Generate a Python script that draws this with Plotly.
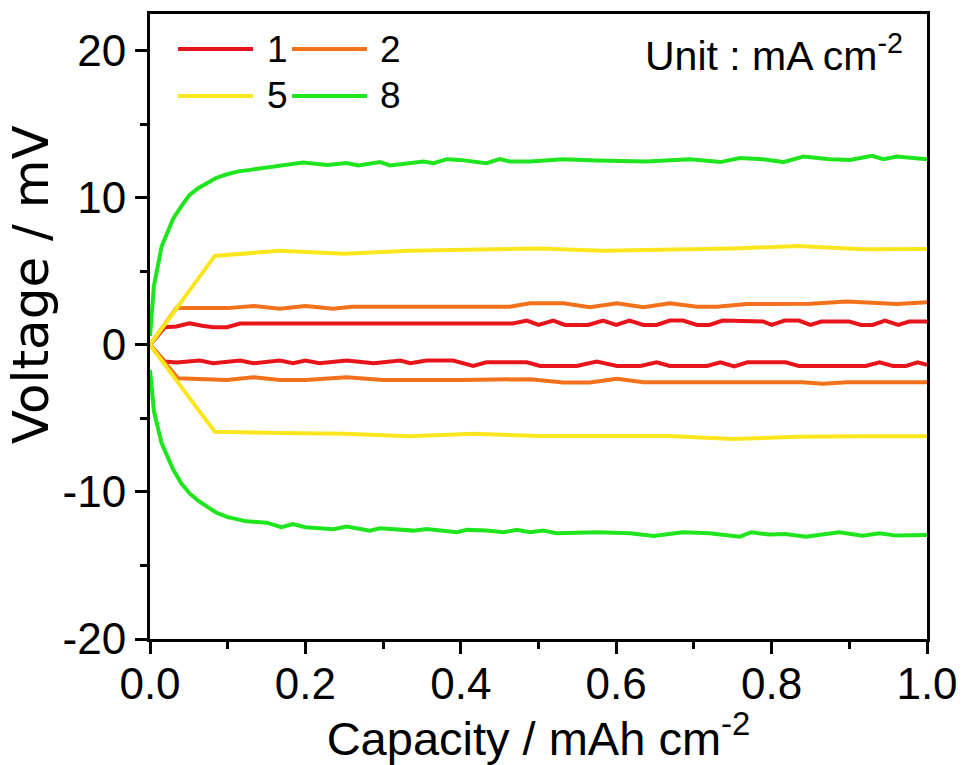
import plotly.graph_objects as go

# ---------------- data ----------------
series_names = ["1", "2", "5", "8"]
series_colors = ["#E8141B", "#F2711A", "#FAE61E", "#1EE51E"]

# current density 1 mA cm-2
x_up_1 = [0, 0.019, 0.034, 0.051, 0.067, 0.081, 0.099, 0.116, 0.15, 0.2, 0.25, 0.3, 0.35, 0.4, 0.45,
          0.467, 0.485, 0.5, 0.519, 0.534, 0.564, 0.583, 0.6, 0.617, 0.635, 0.652, 0.669, 0.686, 0.704,
          0.72, 0.737, 0.789, 0.8, 0.817, 0.835, 0.85, 0.864, 0.9, 0.915, 0.93, 0.946, 0.963, 0.977, 1.0]
v_up_1 = [0, 1.2, 1.25, 1.47, 1.3, 1.2, 1.2, 1.45, 1.45, 1.45, 1.45, 1.45, 1.45, 1.45, 1.45,
          1.45, 1.65, 1.36, 1.65, 1.36, 1.36, 1.65, 1.36, 1.65, 1.36, 1.36, 1.65, 1.65, 1.36,
          1.36, 1.65, 1.59, 1.36, 1.65, 1.65, 1.36, 1.59, 1.59, 1.36, 1.36, 1.65, 1.36, 1.59, 1.59]
x_dn_1 = [0, 0.019, 0.034, 0.064, 0.081, 0.116, 0.133, 0.167, 0.184, 0.2, 0.218, 0.253, 0.288, 0.322,
          0.335, 0.356, 0.39, 0.416, 0.433, 0.485, 0.502, 0.515, 0.549, 0.575, 0.601, 0.631, 0.652,
          0.669, 0.717, 0.734, 0.752, 0.769, 0.818, 0.835, 0.921, 0.939, 0.956, 0.973, 0.988, 1.0]
v_dn_1 = [0, -1.13, -1.2, -1.07, -1.25, -1.07, -1.25, -1.07, -1.25, -1.07, -1.25, -1.07, -1.25, -1.07,
          -1.25, -1.07, -1.07, -1.43, -1.18, -1.18, -1.43, -1.43, -1.43, -1.13, -1.43, -1.43, -1.18,
          -1.43, -1.43, -1.18, -1.47, -1.18, -1.18, -1.43, -1.43, -1.18, -1.43, -1.43, -1.18, -1.36]

# current density 2 mA cm-2
x_up_2 = [0, 0.034, 0.1, 0.133, 0.167, 0.2, 0.236, 0.26, 0.3, 0.4, 0.463, 0.489, 0.532, 0.566,
          0.601, 0.635, 0.669, 0.704, 0.73, 0.768, 0.85, 0.897, 0.961, 1.0]
v_up_2 = [0, 2.5, 2.5, 2.65, 2.45, 2.65, 2.45, 2.6, 2.6, 2.6, 2.6, 2.83, 2.83, 2.56,
          2.83, 2.56, 2.83, 2.6, 2.6, 2.78, 2.8, 2.95, 2.78, 2.9]
x_dn_2 = [0, 0.036, 0.099, 0.133, 0.167, 0.2, 0.253, 0.3, 0.4, 0.489, 0.532, 0.566, 0.601, 0.635,
          0.75, 0.84, 0.866, 0.897, 1.0]
v_dn_2 = [0, -2.27, -2.38, -2.2, -2.38, -2.38, -2.2, -2.38, -2.38, -2.33, -2.56, -2.56, -2.31, -2.54,
          -2.54, -2.54, -2.65, -2.54, -2.54]

# current density 5 mA cm-2
x_up_5 = [0, 0.0833, 0.1667, 0.25, 0.3333, 0.4167, 0.5, 0.5833, 0.6667, 0.75, 0.8333, 0.9167, 1.0]
v_up_5 = [0, 6.05, 6.4, 6.2, 6.4, 6.45, 6.55, 6.4, 6.5, 6.55, 6.72, 6.5, 6.52]
x_dn_5 = [0, 0.0833, 0.1667, 0.25, 0.3333, 0.4167, 0.5, 0.5833, 0.6667, 0.75, 0.8333, 0.9167, 1.0]
v_dn_5 = [0, -5.9, -6.0, -6.05, -6.22, -6.05, -6.2, -6.2, -6.2, -6.4, -6.25, -6.22, -6.22]

# current density 8 mA cm-2
x_up_8 = [0, 0.005, 0.015, 0.03, 0.04, 0.051, 0.062, 0.073, 0.085, 0.099, 0.114, 0.129, 0.148, 0.167,
          0.197, 0.228, 0.253, 0.268, 0.296, 0.309, 0.352, 0.365, 0.382, 0.399, 0.433, 0.45, 0.463,
          0.489, 0.532, 0.575, 0.639, 0.695, 0.734, 0.759, 0.789, 0.815, 0.841, 0.875, 0.901, 0.929,
          0.944, 0.961, 1.0]
v_up_8 = [0.6, 4.0, 6.7, 8.6, 9.4, 10.2, 10.65, 11.0, 11.35, 11.6, 11.8, 11.9, 12.05, 12.2,
          12.4, 12.24, 12.36, 12.2, 12.43, 12.2, 12.47, 12.36, 12.63, 12.58, 12.36, 12.63, 12.47,
          12.47, 12.63, 12.54, 12.47, 12.63, 12.43, 12.7, 12.63, 12.43, 12.81, 12.63, 12.58, 12.86,
          12.63, 12.81, 12.63]
x_dn_8 = [0, 0.005, 0.015, 0.03, 0.04, 0.051, 0.062, 0.073, 0.085, 0.099, 0.124, 0.15, 0.169, 0.184,
          0.2, 0.236, 0.253, 0.283, 0.296, 0.339, 0.356, 0.395, 0.408, 0.433, 0.455, 0.472, 0.489,
          0.506, 0.523, 0.575, 0.618, 0.648, 0.686, 0.72, 0.759, 0.774, 0.797, 0.818, 0.844, 0.865,
          0.887, 0.917, 0.939, 0.96, 1.0]
v_dn_8 = [-1.7, -4.5, -6.7, -8.5, -9.4, -10.1, -10.6, -11.0, -11.4, -11.7, -12.0, -12.09, -12.4, -12.18,
          -12.4, -12.54, -12.36, -12.63, -12.47, -12.63, -12.52, -12.74, -12.58, -12.63, -12.74, -12.58,
          -12.74, -12.63, -12.81, -12.74, -12.81, -12.99, -12.74, -12.81, -13.04, -12.74, -12.9, -12.86,
          -13.04, -12.9, -12.74, -12.97, -12.81, -12.97, -12.92]

x_tick_vals = [0.0, 0.2, 0.4, 0.6, 0.8, 1.0]
x_tick_text = ["0.0", "0.2", "0.4", "0.6", "0.8", "1.0"]
y_tick_vals = [-20, -10, 0, 10, 20]
y_tick_text = ["-20", "-10", "0", "10", "20"]

x_title = "Capacity / mAh cm<sup>-2</sup>"
y_title = "Voltage / mV"
unit_text = "Unit : mA cm<sup>-2</sup>"

# ---------------- figure ----------------
FONT = "Liberation Sans, Arial, sans-serif"
ups = [(x_up_1, v_up_1), (x_up_2, v_up_2), (x_up_5, v_up_5), (x_up_8, v_up_8)]
dns = [(x_dn_1, v_dn_1), (x_dn_2, v_dn_2), (x_dn_5, v_dn_5), (x_dn_8, v_dn_8)]

fig = go.Figure()
for name, color, (xu, vu), (xd, vd) in zip(series_names, series_colors, ups, dns):
    fig.add_trace(go.Scatter(
        x=list(xu) + [None] + list(xd),
        y=list(vu) + [None] + list(vd),
        mode="lines", name=name, showlegend=False,
        line=dict(color=color, width=4),
        connectgaps=False,
    ))

axis_common = dict(
    showline=True, linecolor="black", linewidth=3, mirror=True,
    ticks="outside", ticklen=12, tickwidth=3, tickcolor="black",
    showgrid=False, zeroline=False, automargin=False,
    tickfont=dict(family=FONT, size=44, color="black"),
)

fig.update_xaxes(
    range=[0, 1], tickmode="array", tickvals=x_tick_vals, ticktext=x_tick_text,
    ticklabelstandoff=-8,
    minor=dict(dtick=0.1, ticks="outside", ticklen=7, tickwidth=3, tickcolor="black", showgrid=False),
    title=dict(text=x_title, font=dict(family=FONT, size=47, color="black"), standoff=17),
    **axis_common,
)
fig.update_yaxes(
    range=[-20, 22.5], tickmode="array", tickvals=y_tick_vals, ticktext=y_tick_text,
    minor=dict(dtick=5, ticks="outside", ticklen=7, tickwidth=3, tickcolor="black", showgrid=False),
    **axis_common,
)

# legend drawn as two rows x two columns of keys (paper coordinates)
key_cols = [(0.036, 0.1326, 0.148), (0.1828, 0.2793, 0.2934)]  # line start, line end, text x
key_rows = [0.944, 0.8688]
shapes = []
annotations = []
for i, (name, color) in enumerate(zip(series_names, series_colors)):
    x0, x1, xt = key_cols[i % 2]
    yk = key_rows[i // 2]
    shapes.append(dict(type="line", xref="paper", yref="paper", x0=x0, x1=x1, y0=yk, y1=yk,
                       line=dict(color=color, width=4)))
    annotations.append(dict(text=name, xref="paper", yref="paper", x=xt, y=yk,
                            xanchor="left", yanchor="middle", showarrow=False,
                            font=dict(family=FONT, size=37, color="black")))

annotations.append(dict(
    text=unit_text, xref="paper", yref="paper", x=0.972, y=0.937,
    xanchor="right", yanchor="middle", showarrow=False,
    font=dict(family=FONT, size=41, color="black"),
))
# y-axis title
annotations.append(dict(
    text=y_title, xref="paper", yref="paper", x=-0.153, y=0.566,
    xanchor="center", yanchor="middle", textangle=-90, showarrow=False,
    font=dict(family="DejaVu Sans, sans-serif", size=50, color="black"),
))

fig.update_layout(
    width=964, height=765,
    margin=dict(l=150, r=37, t=14, b=126, pad=0, autoexpand=False),
    paper_bgcolor="white", plot_bgcolor="white",
    font=dict(family=FONT, color="black"),
    showlegend=False,
    shapes=shapes,
    annotations=annotations,
)

fig.write_html("out.html")
